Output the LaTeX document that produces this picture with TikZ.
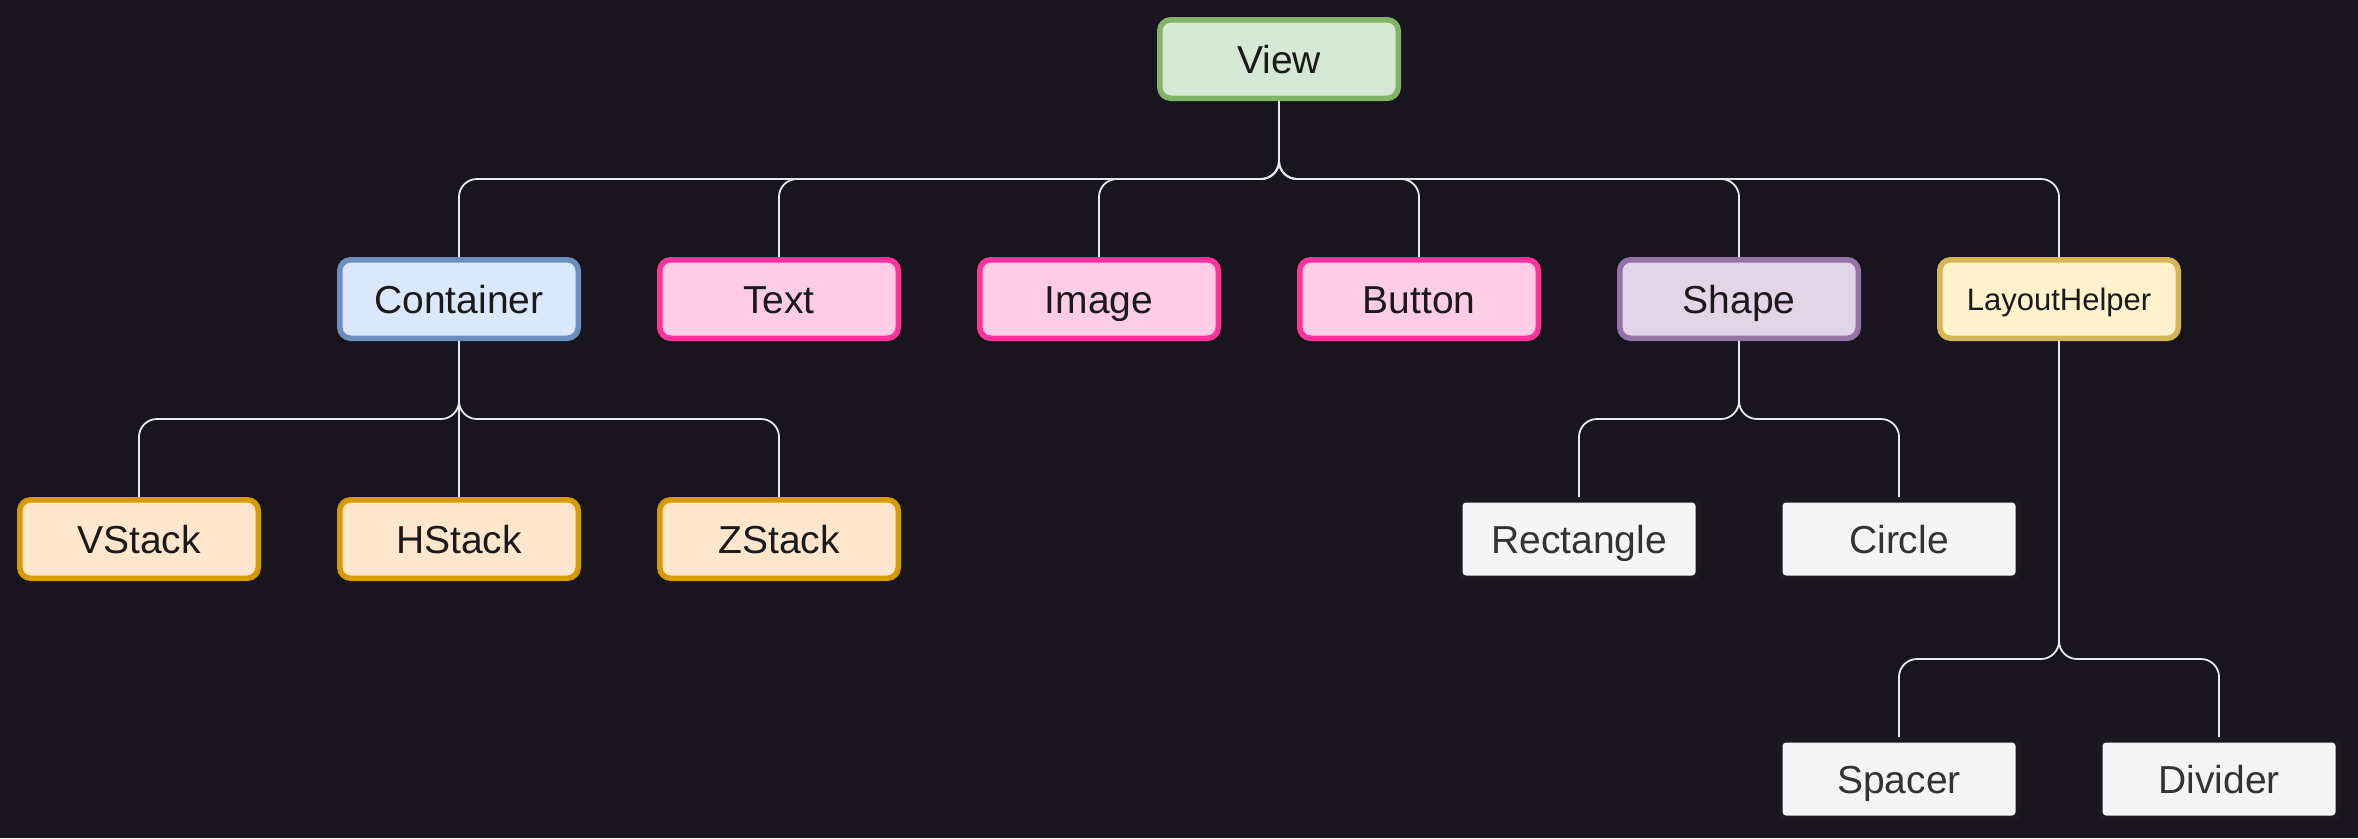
\documentclass[tikz,border=0pt]{standalone}
\usepackage{fontspec}
\setmainfont{Liberation Sans}
\definecolor{bgc}{HTML}{18151E}
\definecolor{edgec}{HTML}{E8E8E8}
\definecolor{txt}{HTML}{1A1A1A}
\definecolor{gfill}{HTML}{D5E8D4}\definecolor{gdraw}{HTML}{82B366}
\definecolor{bfill}{HTML}{DAE8FC}\definecolor{bdraw}{HTML}{6C8EBF}
\definecolor{pfill}{HTML}{FFCCE6}\definecolor{pdraw}{HTML}{FF3399}
\definecolor{ofill}{HTML}{FFE6CC}\definecolor{odraw}{HTML}{D79B00}
\definecolor{vfill}{HTML}{E1D5E7}\definecolor{vdraw}{HTML}{9673A6}
\definecolor{yfill}{HTML}{FFF2CC}\definecolor{ydraw}{HTML}{D6B656}
\definecolor{wfill}{HTML}{F5F5F5}\definecolor{wdraw}{HTML}{1C1A1F}\definecolor{wtxt}{HTML}{333333}
\tikzset{
  box/.style={rectangle, rounded corners=11pt, line width=5.5pt, minimum width=238.5pt, minimum height=78.5pt, inner sep=0pt, text=txt, font=\fontsize{39}{45}\selectfont, text height=36pt, text depth=8pt},
  gbox/.style={box, fill=gfill, draw=gdraw},
  bbox/.style={box, fill=bfill, draw=bdraw},
  pbox/.style={box, fill=pfill, draw=pdraw},
  obox/.style={box, fill=ofill, draw=odraw},
  vbox/.style={box, fill=vfill, draw=vdraw},
  ybox/.style={box, fill=yfill, draw=ydraw, font=\fontsize{31}{36}\selectfont, text height=29pt, text depth=6.5pt},
  wbox/.style={box, rounded corners=6pt, fill=wfill, draw=wdraw, text=wtxt},
  edge/.style={draw=edgec, line width=1.8pt, rounded corners=18pt}
}
\begin{document}
\begin{tikzpicture}[x=1pt,y=-1pt]
\fill[bgc] (0,0) rectangle (2358,838);
\useasboundingbox (0,0) rectangle (2358,838);
% bars
\coordinate (barA) at (0,179);
\coordinate (barB) at (0,419);
\coordinate (barC) at (0,659);
% nodes
\node[gbox] (view) at (1279,59) {View};
\node[bbox] (container) at (459,299) {Container};
\node[pbox] (text) at (779,299) {Text};
\node[pbox] (image) at (1099,299) {Image};
\node[pbox] (button) at (1419,299) {Button};
\node[vbox] (shape) at (1739,299) {Shape};
\node[ybox] (layout) at (2059,299) {LayoutHelper};
\node[obox] (vstack) at (139,539) {VStack};
\node[obox] (hstack) at (459,539) {HStack};
\node[obox] (zstack) at (779,539) {ZStack};
\node[wbox] (rect) at (1579,539) {Rectangle};
\node[wbox] (circle) at (1899,539) {Circle};
\node[wbox] (spacer) at (1899,779) {Spacer};
\node[wbox] (divider) at (2219,779) {Divider};
% edges
\foreach \c in {container,text,image,button,shape,layout}
  \draw[edge] (view.south) -- (view.south |- barA) -| (\c.north);
\foreach \c in {vstack,hstack,zstack}
  \draw[edge] (container.south) -- (container.south |- barB) -| (\c.north);
\foreach \c in {rect,circle}
  \draw[edge] (shape.south) -- (shape.south |- barB) -| (\c.north);
\foreach \c in {spacer,divider}
  \draw[edge] (layout.south) -- (layout.south |- barC) -| (\c.north);
\end{tikzpicture}
\end{document}
